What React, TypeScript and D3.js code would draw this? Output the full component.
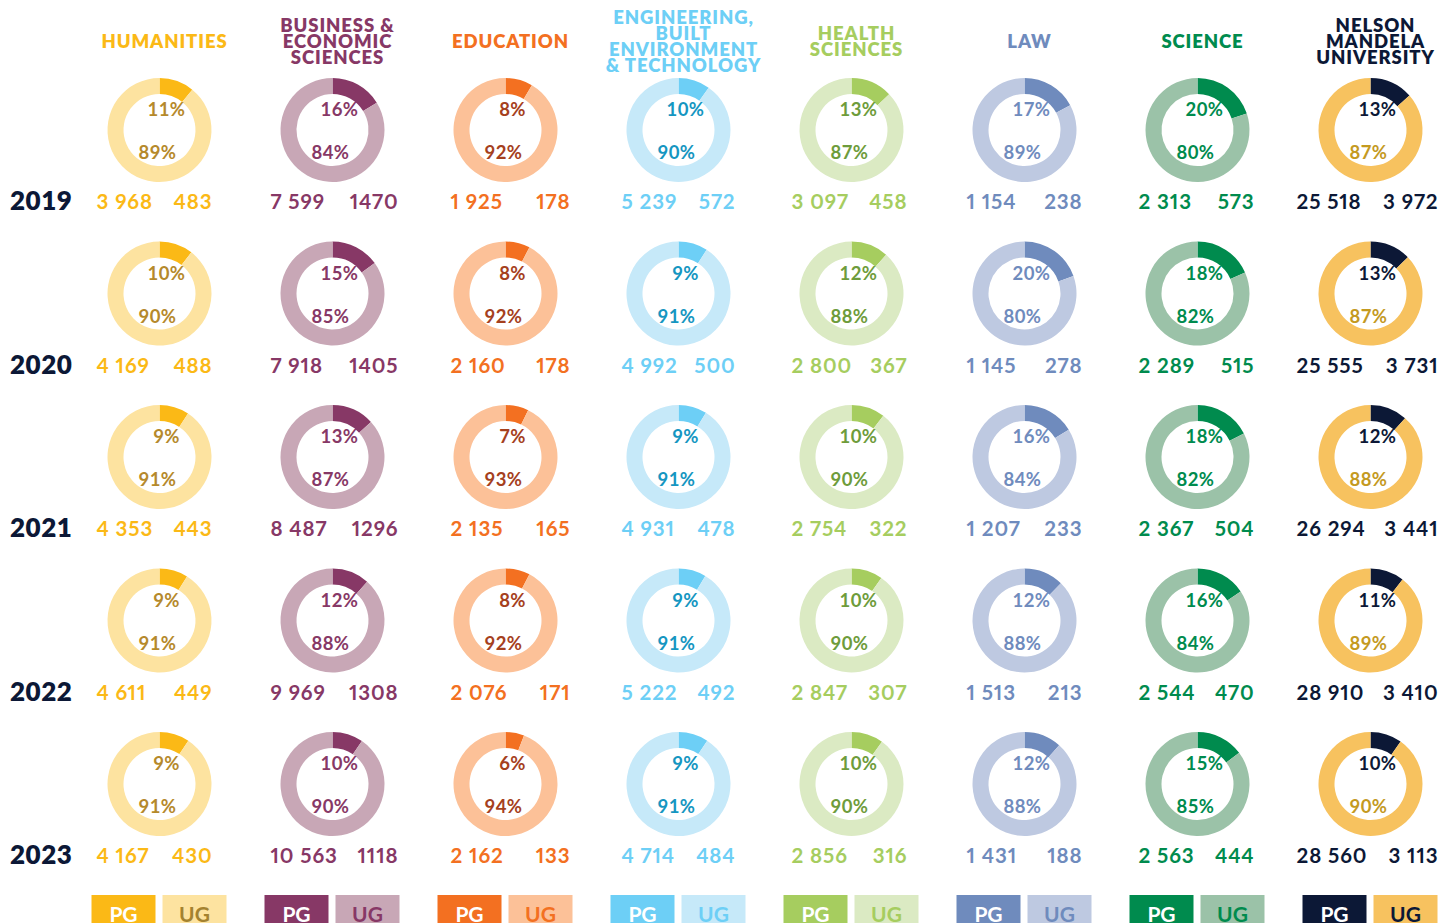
import React from "react";
import * as d3 from "d3";

// faculties, left to right
const faculties = [
  "HUMANITIES",
  "BUSINESS & ECONOMIC SCIENCES",
  "EDUCATION",
  "ENGINEERING, BUILT ENVIRONMENT & TECHNOLOGY",
  "HEALTH SCIENCES",
  "LAW",
  "SCIENCE",
  "NELSON MANDELA UNIVERSITY",
];
// header line breaks as printed
const headerLines = [
  ["HUMANITIES"],
  ["BUSINESS &", "ECONOMIC", "SCIENCES"],
  ["EDUCATION"],
  ["ENGINEERING,", "BUILT", "ENVIRONMENT", "& TECHNOLOGY"],
  ["HEALTH", "SCIENCES"],
  ["LAW"],
  ["SCIENCE"],
  ["NELSON", "MANDELA", "UNIVERSITY"],
];

const years = ["2019", "2020", "2021", "2022", "2023"];

// undergraduate headcounts per faculty, 2019..2023
const ugHumanities = [3968, 4169, 4353, 4611, 4167];
const ugBusiness = [7599, 7918, 8487, 9969, 10563];
const ugEducation = [1925, 2160, 2135, 2076, 2162];
const ugEngineering = [5239, 4992, 4931, 5222, 4714];
const ugHealth = [3097, 2800, 2754, 2847, 2856];
const ugLaw = [1154, 1145, 1207, 1513, 1431];
const ugScience = [2313, 2289, 2367, 2544, 2563];
const ugUniversity = [25518, 25555, 26294, 28910, 28560];

// postgraduate headcounts
const pgHumanities = [483, 488, 443, 449, 430];
const pgBusiness = [1470, 1405, 1296, 1308, 1118];
const pgEducation = [178, 178, 165, 171, 133];
const pgEngineering = [572, 500, 478, 492, 484];
const pgHealth = [458, 367, 322, 307, 316];
const pgLaw = [238, 278, 233, 213, 188];
const pgScience = [573, 515, 504, 470, 444];
const pgUniversity = [3972, 3731, 3441, 3410, 3113];

// percentage labels as printed
const pgPctHumanities = [11, 10, 9, 9, 9];
const pgPctBusiness = [16, 15, 13, 12, 10];
const pgPctEducation = [8, 8, 7, 8, 6];
const pgPctEngineering = [10, 9, 9, 9, 9];
const pgPctHealth = [13, 12, 10, 10, 10];
const pgPctLaw = [17, 20, 16, 12, 12];
const pgPctScience = [20, 18, 18, 16, 15];
const pgPctUniversity = [13, 13, 12, 11, 10];

const ugPctHumanities = [89, 90, 91, 91, 91];
const ugPctBusiness = [84, 85, 87, 88, 90];
const ugPctEducation = [92, 92, 93, 92, 94];
const ugPctEngineering = [90, 91, 91, 91, 91];
const ugPctHealth = [87, 88, 90, 90, 90];
const ugPctLaw = [89, 80, 84, 88, 88];
const ugPctScience = [80, 82, 82, 84, 85];
const ugPctUniversity = [87, 87, 88, 89, 90];

const ug = [ugHumanities, ugBusiness, ugEducation, ugEngineering, ugHealth, ugLaw, ugScience, ugUniversity];
const pg = [pgHumanities, pgBusiness, pgEducation, pgEngineering, pgHealth, pgLaw, pgScience, pgUniversity];
const pgPct = [pgPctHumanities, pgPctBusiness, pgPctEducation, pgPctEngineering, pgPctHealth, pgPctLaw, pgPctScience, pgPctUniversity];
const ugPct = [ugPctHumanities, ugPctBusiness, ugPctEducation, ugPctEngineering, ugPctHealth, ugPctLaw, ugPctScience, ugPctUniversity];

// colours per faculty
const styles = [
  { pg: "#fbb916", ug: "#fde3a0", pctPg: "#b5892b", pctUg: "#b5892b", num: "#fbb916", legUg: "#a4822f", groupPg: true },
  { pg: "#873866", ug: "#c8a7b6", pctPg: "#873866", pctUg: "#873866", num: "#873866", legUg: "#873866", groupPg: false },
  { pg: "#f37021", ug: "#fcc198", pctPg: "#a5401d", pctUg: "#a5401d", num: "#f37021", legUg: "#f37021", groupPg: true },
  { pg: "#6dcff6", ug: "#c6e9f9", pctPg: "#1596c1", pctUg: "#1596c1", num: "#6dcff6", legUg: "#6dcff6", groupPg: true },
  { pg: "#a6cd5f", ug: "#dbeac3", pctPg: "#6e9c3b", pctUg: "#6e9c3b", num: "#a6cd5f", legUg: "#a6cd5f", groupPg: true },
  { pg: "#6f8bbd", ug: "#bec9e1", pctPg: "#6f8bbd", pctUg: "#6f8bbd", num: "#6f8bbd", legUg: "#6f8bbd", groupPg: true },
  { pg: "#008b4e", ug: "#9bc2a8", pctPg: "#008b4e", pctUg: "#008b4e", num: "#008b4e", legUg: "#008b4e", groupPg: true },
  { pg: "#0c1836", ug: "#f7c25f", pctPg: "#0c1836", pctUg: "#c49a1f", num: "#0c1836", legUg: "#0c1836", groupPg: true },
];
// where the two count labels sit relative to the column centre
const numSpread = [
  [-63, 53], [-62, 66], [-55, 65], [-57, 57], [-60, 56], [-58, 58], [-59, 57], [-74, 68],
];

const width = 1456;
const height = 923;
const font = "Lato, 'Open Sans', sans-serif";
const navy = "#0c1836";

const App = () => {
  const x = d3.scalePoint<string>().domain(faculties).range([159.5, 1370.5]);
  const y = d3.scalePoint<string>().domain(years).range([130, 784]);

  const arc = d3.arc<d3.PieArcDatum<number>>().innerRadius(36).outerRadius(52);
  const pie = d3.pie<number>().sort(null).value((d) => d);

  const fmt = d3.formatLocale({ decimal: ".", thousands: " ", grouping: [3], currency: ["", ""] }).format(",d");
  const numStyle = { fontVariantNumeric: "proportional-nums" };

  return (
    <svg
      width={width}
      height={height}
      style={{ position: "absolute", left: 0, top: 0, background: "#fff" }}
      fontFamily={font}
      fontWeight={700}
    >
      {/* headers */}
      {faculties.map((f, i) => {
        const lines = headerLines[i];
        const lh = 15.8;
        const top = 41 - ((lines.length - 1) * lh) / 2;
        return (
          <text key={f} textAnchor="middle" fill={styles[i].pg} fontSize={18.5} fontWeight={800} letterSpacing={0.9}>
            {lines.map((l, k) => (
              <tspan key={k} x={(x(f) as number) + 5} y={top + k * lh} dominantBaseline="central">
                {l}
              </tspan>
            ))}
          </text>
        );
      })}

      {/* year labels */}
      {years.map((yr) => (
        <text
          key={yr}
          x={10}
          y={(y(yr) as number) + 70}
          dominantBaseline="central"
          fontSize={26}
          letterSpacing={0.5}
          fill={navy}
          fontWeight={800}
        >
          {yr}
        </text>
      ))}

      {/* donuts */}
      {faculties.map((f, i) => {
        const cx = x(f) as number;
        const s = styles[i];
        return years.map((yr, j) => {
          const cy = y(yr) as number;
          const arcs = pie([pg[i][j], ug[i][j]]);
          return (
            <g key={f + yr}>
              <g transform={`translate(${cx},${cy})`}>
                {arcs.map((a, k) => (
                  <path key={k} d={arc(a) as string} fill={k === 0 ? s.pg : s.ug} />
                ))}
                <text x={7} y={-21} textAnchor="middle" dominantBaseline="central" fontSize={18.5} letterSpacing={0.4} fill={s.pctPg}>
                  {pgPct[i][j]}%
                </text>
                <text x={-2} y={22} textAnchor="middle" dominantBaseline="central" fontSize={18.5} letterSpacing={0.4} fill={s.pctUg}>
                  {ugPct[i][j]}%
                </text>
              </g>
              <text
                x={cx + numSpread[i][0]}
                y={cy + 71}
                dominantBaseline="central"
                fontSize={20.5}
                letterSpacing={0.9}
                fill={s.num}
                style={numStyle}
              >
                {fmt(ug[i][j])}
              </text>
              <text
                x={cx + numSpread[i][1]}
                y={cy + 71}
                textAnchor="end"
                dominantBaseline="central"
                fontSize={20.5}
                letterSpacing={0.9}
                fill={s.num}
                style={numStyle}
              >
                {s.groupPg ? fmt(pg[i][j]) : String(pg[i][j])}
              </text>
            </g>
          );
        });
      })}

      {/* legend */}
      {faculties.map((f, i) => {
        const cx = x(f) as number;
        const s = styles[i];
        return (
          <g key={"leg" + f}>
            <rect x={cx - 68} y={895} width={64} height={32} fill={s.pg} />
            <rect x={cx + 3} y={895} width={64} height={32} fill={s.ug} />
            <text x={cx - 36} y={913} textAnchor="middle" dominantBaseline="central" fontSize={21} fill="#fff">
              PG
            </text>
            <text x={cx + 35} y={913} textAnchor="middle" dominantBaseline="central" fontSize={21} fill={s.legUg}>
              UG
            </text>
          </g>
        );
      })}
    </svg>
  );
};

export default App;
